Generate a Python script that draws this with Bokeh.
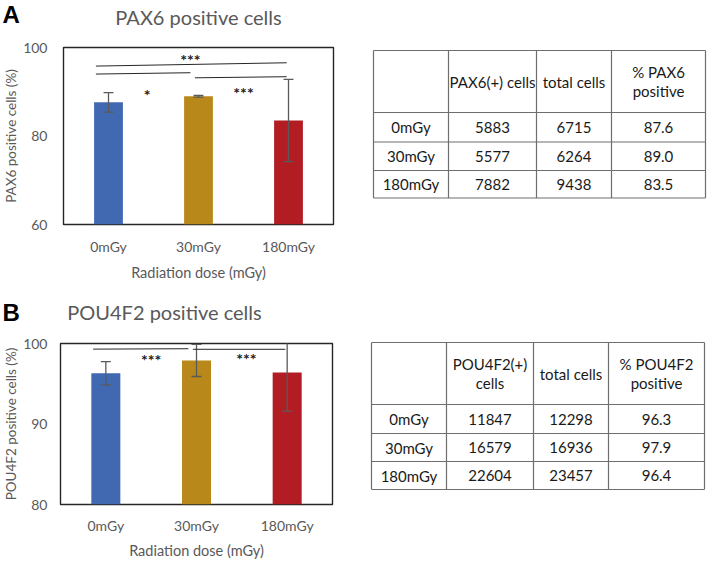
from bokeh.plotting import figure
from bokeh.models import Range1d, FixedTicker, ColumnDataSource
from bokeh.layouts import column, row
from bokeh.embed import file_html
from bokeh.resources import INLINE

# ---------------- data ----------------
doses = ["0mGy", "30mGy", "180mGy"]
bar_colors = ["#4069B1", "#B8891A", "#B21D24"]

pax6_pct = [87.6, 89.0, 83.5]
pax6_err = [2.2, 0.2, 9.3]
pax6_pos = [5883, 5577, 7882]
pax6_total = [6715, 6264, 9438]

pou_pct = [96.3, 97.9, 96.4]
pou_err = [1.45, 2.0, 4.8]
pou_pos = [11847, 16579, 22604]
pou_total = [12298, 16936, 23457]

# significance brackets: (from group, to group, left y, right y)
pax6_sig_lines = [(0, 2, 95.8, 96.55), (0, 1, 94.0, 94.3), (1, 2, 93.15, 93.4)]
pax6_sig_text = [("***", 1.41, 97.3), ("*", 0.93, 89.4), ("***", 2.0, 89.8)]
pou_sig_lines = [(0, 1, 99.3, 99.35), (1, 2, 99.28, 99.28)]
pou_sig_text = [("***", 1.0, 98.0), ("***", 2.05, 98.1)]

pax6_header = ["", "PAX6(+) cells", "total cells", "% PAX6\npositive"]
pou_header = ["", "POU4F2(+)\ncells", "total cells", "% POU4F2\npositive"]

TXT = "#595959"
FONT = "Lato"


def blank_fig(width, height):
    p = figure(width=width, height=height, output_backend="svg", toolbar_location=None,
               x_range=Range1d(0, width), y_range=Range1d(height, 0),
               min_border=0, frame_align=False)
    p.axis.visible = False
    p.grid.visible = False
    p.outline_line_color = None
    return p


def header(title, letter, height, title_x, title_y, letter_y):
    p = blank_fig(355, height)
    p.text(x=[title_x], y=[title_y], text=[title], text_align="center",
           text_baseline="middle", text_font={"value": FONT}, text_font_size="20px",
           text_color=TXT)
    p.text(x=[2], y=[letter_y], text=[letter], text_align="left",
           text_baseline="middle", text_font={"value": "Liberation Sans"},
           text_font_style="bold", text_font_size="24px", text_color="black")
    return p


def bar_chart(pct, err, ylo, yticks, ylabel, sig_lines, sig_text,
              height, bl, br, bt, bb, x_std, xl_std, y_std):
    p = figure(width=355, height=height, output_backend="svg", toolbar_location=None,
               x_range=Range1d(0, 3), y_range=Range1d(ylo, 100),
               min_border_left=bl, min_border_right=br, min_border_top=bt,
               min_border_bottom=bb, frame_align=False)
    p.outline_line_color = "#262626"
    p.outline_line_width = 1.4
    p.xgrid.visible = False
    p.ygrid.visible = False

    xs = [i + 0.5 for i in range(len(doses))]
    lo = [v - e for v, e in zip(pct, err)]
    hi = [v + e for v, e in zip(pct, err)]
    src = ColumnDataSource(dict(x=xs, top=pct, color=bar_colors, lo=lo, hi=hi))
    p.vbar(x="x", top="top", bottom=ylo, width=0.32, fill_color="color",
           line_color=None, source=src)
    # error bars
    p.segment(x0="x", x1="x", y0="lo", y1="hi", line_color="#5a5a5a",
              line_width=1.3, source=src)
    cap = 0.055
    p.segment(x0=[x - cap for x in xs], x1=[x + cap for x in xs], y0=lo, y1=lo,
              line_color="#5a5a5a", line_width=1.3)
    p.segment(x0=[x - cap for x in xs], x1=[x + cap for x in xs], y0=hi, y1=hi,
              line_color="#5a5a5a", line_width=1.3)

    # significance lines
    x0s, x1s, y0s, y1s = [], [], [], []
    for i, j, ya, yb in sig_lines:
        x0s.append(i + 0.5 - (0.14 if i == 0 else 0.04))
        x1s.append(j + 0.5 - (0.02 if j == 2 else 0.09))
        y0s.append(ya)
        y1s.append(yb)
    p.segment(x0=x0s, x1=x1s, y0=y0s, y1=y1s, line_color="#262626", line_width=1)
    p.text(x=[t[1] for t in sig_text], y=[t[2] for t in sig_text],
           text=[t[0] for t in sig_text], text_align="center",
           text_baseline="middle", text_font_size="16px", text_font_style="bold",
           text_color="#1a1a1a", text_font={"value": FONT})

    # axes
    p.xaxis.ticker = FixedTicker(ticks=xs)
    p.xaxis.major_label_overrides = {x: d for x, d in zip(xs, doses)}
    p.yaxis.ticker = FixedTicker(ticks=yticks)
    for ax in (p.xaxis[0], p.yaxis[0]):
        ax.axis_line_color = None
        ax.major_tick_line_color = None
        ax.minor_tick_line_color = None
        ax.major_tick_out = 0
        ax.major_tick_in = 0
        ax.major_label_text_font = FONT
        ax.major_label_text_font_size = "14px"
        ax.major_label_text_color = TXT
        ax.axis_label_text_font = FONT
        ax.axis_label_text_font_style = "normal"
        ax.axis_label_text_color = TXT
    p.xaxis.axis_label = "Radiation dose (mGy)"
    p.xaxis.axis_label_text_font_size = "14.5px"
    p.xaxis.major_label_standoff = x_std
    p.xaxis.axis_label_standoff = xl_std
    p.yaxis.axis_label = ylabel
    p.yaxis.axis_label_text_font_size = "13.5px"
    p.yaxis.major_label_standoff = y_std
    p.yaxis.axis_label_standoff = 1
    return p


def table(hdr, pos, total, pct, height, top, left, col_w, row_h):
    W = 353
    p = blank_fig(W, height)
    xe = [left]
    for w in col_w:
        xe.append(xe[-1] + w)
    ye = [top]
    for h in row_h:
        ye.append(ye[-1] + h)
    p.segment(x0=xe, x1=xe, y0=[ye[0]] * len(xe), y1=[ye[-1]] * len(xe),
              line_color="#6e6e6e", line_width=1.2)
    p.segment(x0=[xe[0]] * len(ye), x1=[xe[-1]] * len(ye), y0=ye, y1=ye,
              line_color="#6e6e6e", line_width=1.2)
    cx = [(xe[k] + xe[k + 1]) / 2 for k in range(4)]
    cy = [(ye[k] + ye[k + 1]) / 2 for k in range(4)]
    tx, ty, tt = [], [], []
    for k, h in enumerate(hdr):
        lines = h.split("\n")
        n = len(lines)
        for m, ln in enumerate(lines):
            if ln:
                tx.append(cx[k])
                ty.append(cy[0] + (m - (n - 1) / 2) * 19)
                tt.append(ln)
    for r in range(3):
        vals = [doses[r], str(pos[r]), str(total[r]), f"{pct[r]:.1f}"]
        for k, v in enumerate(vals):
            tx.append(cx[k])
            ty.append(cy[r + 1])
            tt.append(v)
    p.text(x=tx, y=ty, text=tt, text_align="center", text_baseline="middle",
           text_font={"value": FONT}, text_font_size="15px", text_color="#1a1a1a")
    return p


hA = header("PAX6 positive cells", "A", 30, 198, 16, 14)
pA = bar_chart(pax6_pct, pax6_err, 60, [60, 80, 100], "PAX6 positive cells (%)",
               pax6_sig_lines, pax6_sig_text, 260, 61, 22, 17, 66, 13, 6, 16)
hB = header("POU4F2 positive cells", "B", 36, 164, 21, 22)
pB = bar_chart(pou_pct, pou_err, 80, [80, 90, 100], "POU4F2 positive cells (%)",
               pou_sig_lines, pou_sig_text, 235, 58, 23, 17, 50, 12, 5, 13)

pct_A = [round(a / b * 100, 1) for a, b in zip(pax6_pos, pax6_total)]
pct_B = [round(a / b * 100, 1) for a, b in zip(pou_pos, pou_total)]
tA = table(pax6_header, pax6_pos, pax6_total, pct_A, 290, 50, 18,
           [75, 88, 75, 94], [62, 29.5, 28.5, 27.5])
tB = table(pou_header, pou_pos, pou_total, pct_B, 271, 52, 16,
           [75, 87, 75, 96], [62, 29, 28, 28])

layout = column(row(column(hA, pA), tA), row(column(hB, pB), tB))
open("out.html", "w").write(file_html(layout, INLINE))
